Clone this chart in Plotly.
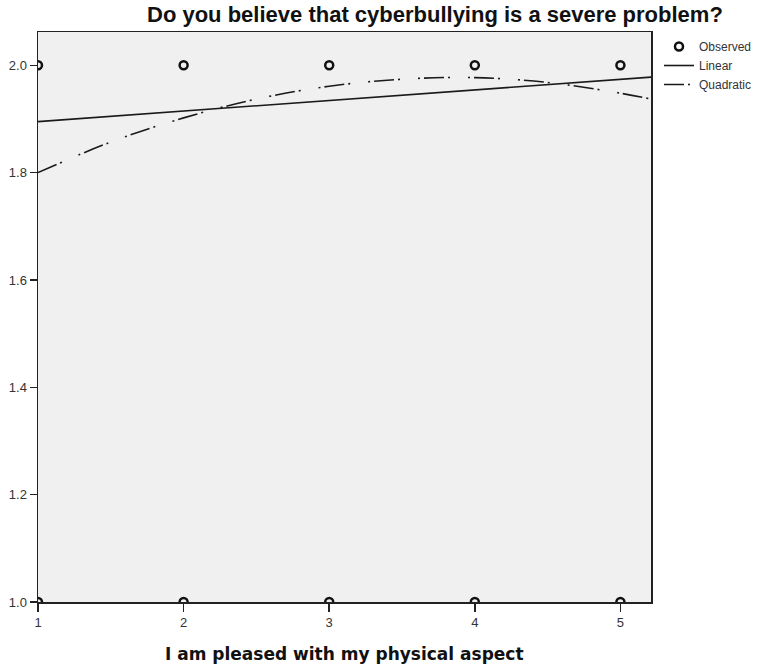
import plotly.graph_objects as go

# Observed data
obs_x = [1, 2, 3, 4, 5, 1, 2, 3, 4, 5]
obs_y = [2.0, 2.0, 2.0, 2.0, 2.0, 1.0, 1.0, 1.0, 1.0, 1.0]

# Linear fit line (at x ends)
lin_x = [1, 5.21]
lin_y = [1.895, 1.978]

# Quadratic fit curve
quad_x = [1, 1.5, 2, 2.5, 3, 3.5, 4, 4.5, 5, 5.21]
quad_y = [1.800, 1.857, 1.902, 1.937, 1.961, 1.974, 1.977, 1.968, 1.948, 1.937]

x_ticks = [1, 2, 3, 4, 5]
y_ticks = [1.0, 1.2, 1.4, 1.6, 1.8, 2.0]
y_tick_labels = ["1.0", "1.2", "1.4", "1.6", "1.8", "2.0"]

title_text = "Do you believe that cyberbullying is a severe problem?"
x_title = "I am pleased with my physical aspect"

fig = go.Figure()
fig.add_trace(go.Scatter(
    x=obs_x, y=obs_y, mode="markers", name="Observed",
    marker=dict(symbol="circle-open", size=8, color="#111111",
                line=dict(width=2.5, color="#111111")),
    cliponaxis=True,
))
fig.add_trace(go.Scatter(
    x=lin_x, y=lin_y, mode="lines", name="Linear",
    line=dict(color="#1a1a1a", width=1.6),
))
fig.add_trace(go.Scatter(
    x=quad_x, y=quad_y, mode="lines", name="Quadratic",
    line=dict(color="#1a1a1a", width=1.6, shape="spline",
              dash="20px,4px,2px,18px,2px,4px"),
))

fig.update_layout(
    width=771, height=667,
    margin=dict(l=38, r=120, t=32, b=65, autoexpand=False),
    paper_bgcolor="white",
    plot_bgcolor="#f0f0f0",
    font=dict(family="Liberation Sans, Arial, sans-serif", size=12, color="#333333"),
    showlegend=True,
    legend=dict(x=1.0 + 8 / 613, y=1.0, xanchor="left", yanchor="top",
                bgcolor="rgba(0,0,0,0)", font=dict(size=12, color="#333333"),
                itemwidth=30, tracegroupgap=0),
)
fig.add_annotation(text="<b>" + title_text + "</b>",
                   x=(435 - 38) / (651 - 38), xref="paper",
                   y=1.0, yref="paper", yshift=3,
                   xanchor="center", yanchor="bottom", showarrow=False,
                   font=dict(family="Liberation Sans, Arial, sans-serif",
                             size=22, color="#111111"))
fig.add_annotation(text="<b>" + x_title + "</b>",
                   x=0.5, xref="paper", y=0, yref="paper", yshift=-40,
                   xanchor="center", yanchor="top", showarrow=False,
                   font=dict(family="DejaVu Sans, sans-serif", size=17, color="#111111"))

fig.update_xaxes(
    range=[1, 5.21], tickvals=x_ticks, ticktext=[str(v) for v in x_ticks],
    automargin=False,
    showgrid=False, zeroline=False, showline=True, linecolor="#222222", linewidth=1.5,
    mirror=True, ticks="outside", ticklen=8, tickwidth=1.5, tickcolor="#222222",
    tickfont=dict(color="#333333", size=13),
)
fig.update_yaxes(
    range=[1, 2.062], tickvals=y_ticks, ticktext=y_tick_labels,
    automargin=False,
    showgrid=False, zeroline=False, showline=True, linecolor="#222222", linewidth=1.5,
    mirror=True, ticks="outside", ticklen=7, tickwidth=1.5, tickcolor="#222222",
    tickfont=dict(color="#333333", size=13),
)

fig.write_html("out.html",
               config={"displayModeBar": False, "staticPlot": True},
               post_script="document.body.style.margin='0';document.body.style.overflow='hidden';")
